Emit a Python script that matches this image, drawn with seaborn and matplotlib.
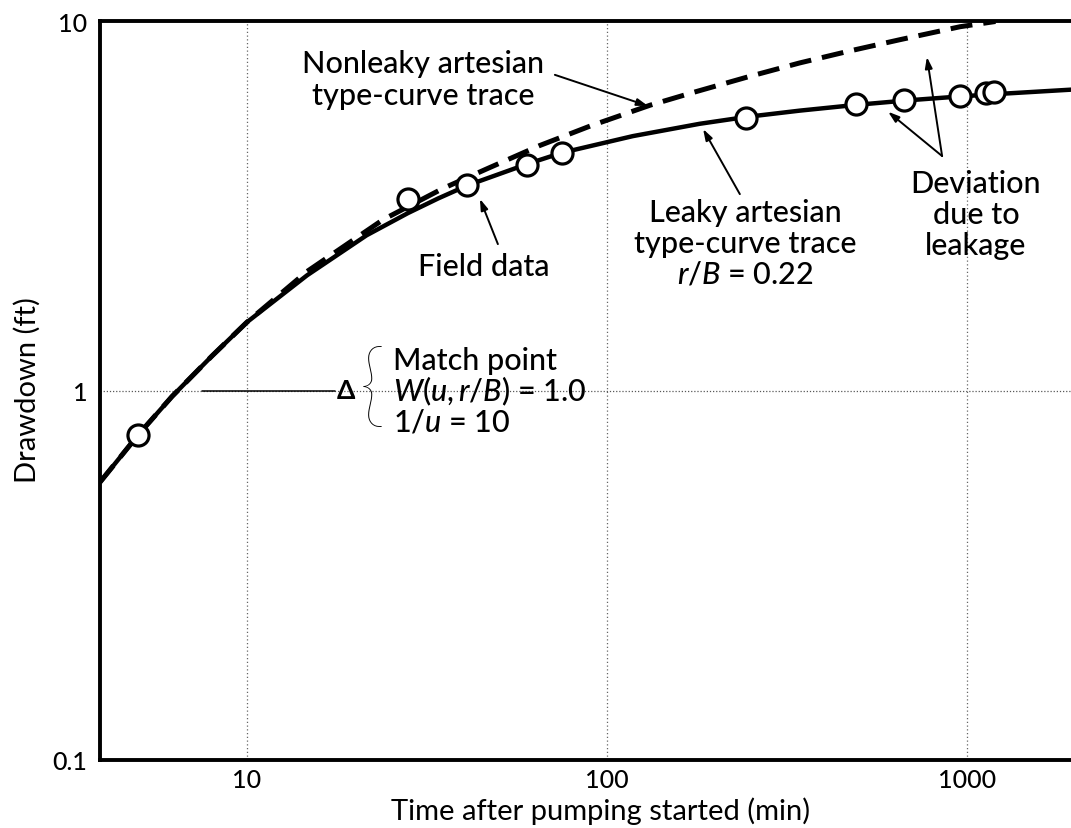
import numpy as np
import pandas as pd
import matplotlib
matplotlib.use("Agg")
import matplotlib.pyplot as plt
import seaborn as sns

# Field measurements: time since pumping began (min) and drawdown (ft)
field_time = [5, 28, 41, 60, 75, 244, 493, 669, 958, 1129, 1185]
field_drawdown = [0.76, 3.30, 3.59, 4.08, 4.39, 5.47, 5.96, 6.11, 6.27, 6.40, 6.42]

# Leaky artesian type-curve trace (r/B = 0.22)
leaky_time = [3.9, 5, 6.2, 8, 10, 14.7, 21.5, 28, 34, 41, 60, 75, 118, 181,
              244, 343, 493, 686, 958, 1200, 1950]
leaky_drawdown = [0.563, 0.76, 0.964, 1.24, 1.53, 2.05, 2.63, 3.02, 3.31, 3.59,
                  4.10, 4.40, 4.88, 5.27, 5.50, 5.72, 5.93, 6.10, 6.25, 6.34, 6.52]

# Nonleaky artesian (Theis) type-curve trace
theis_time = [3.9, 5, 6.2, 8, 10, 14.7, 23.9, 35, 46.4, 65, 90, 132, 173, 249,
              343, 473, 651, 957, 1200]
theis_drawdown = [0.563, 0.76, 0.964, 1.24, 1.53, 2.10, 2.90, 3.52, 3.98, 4.60,
                  5.20, 5.92, 6.40, 7.08, 7.70, 8.30, 8.90, 9.65, 9.97]

x_ticks = [10, 100, 1000]
x_tick_labels = ["10", "100", "1000"]
y_ticks = [0.1, 1, 10]
y_tick_labels = ["0.1", "1", "10"]

sns.set_theme(style="white")
plt.rcParams["font.family"] = ["Lato", "DejaVu Sans"]
plt.rcParams["font.weight"] = "medium"
plt.rcParams["text.color"] = "black"
plt.rcParams["axes.labelcolor"] = "black"
plt.rcParams["xtick.color"] = "black"
plt.rcParams["ytick.color"] = "black"
plt.rcParams["mathtext.fontset"] = "custom"
plt.rcParams["mathtext.it"] = "Lato:italic:medium"
plt.rcParams["mathtext.rm"] = "Lato:medium"

W, H = 1071, 829
fig = plt.figure(figsize=(W / 100, H / 100), dpi=100)
fig.patch.set_facecolor("white")
ax = fig.add_axes([100 / W, 68 / H, 971 / W, 739 / H])
ax.set_facecolor("white")
ax.set_xscale("log")
ax.set_yscale("log")
ax.set_xlim(3.91, 1945)
ax.set_ylim(0.1, 10)

# light dotted reference grid
for xv in x_ticks:
    ax.axvline(xv, color="0.4", lw=0.9, ls=(0, (1, 2)), zorder=1)
ax.axhline(1, color="0.35", lw=0.9, ls=(0, (1, 1.5)), zorder=1)

leaky = pd.DataFrame({"t": leaky_time, "s": leaky_drawdown})
theis = pd.DataFrame({"t": theis_time, "s": theis_drawdown})
field = pd.DataFrame({"t": field_time, "s": field_drawdown})

sns.lineplot(data=theis, x="t", y="s", ax=ax, color="black", lw=3.6,
             linestyle=(0, (4.4, 2.2)), estimator=None, sort=False, zorder=3)
sns.lineplot(data=leaky, x="t", y="s", ax=ax, color="black", lw=3.2,
             estimator=None, sort=False, zorder=4)
sns.scatterplot(data=field, x="t", y="s", ax=ax, s=230, marker="o",
                facecolor="white", edgecolor="black", linewidth=2.3, zorder=5)

ax.set_xticks(x_ticks)
ax.set_xticklabels(x_tick_labels)
ax.set_yticks(y_ticks)
ax.set_yticklabels(y_tick_labels)
ax.minorticks_off()
ax.tick_params(axis="both", length=0, labelsize=18, colors="black")
ax.tick_params(axis="x", pad=6)
ax.tick_params(axis="y", pad=9)

for side in ["left", "top", "bottom"]:
    ax.spines[side].set_color("black")
    ax.spines[side].set_linewidth(2.8)
ax.spines["right"].set_visible(False)

ax.set_xlabel("Time after pumping started (min)", fontsize=21, color="black")
ax.set_ylabel("Drawdown (ft)", fontsize=21, color="black")
ax.xaxis.label.set_va("center")
ax.yaxis.label.set_va("center")
ax.xaxis.set_label_coords(0.516, -0.068)
ax.yaxis.set_label_coords(-0.075, 0.502)

fs = 22
arrow = dict(arrowstyle="-|>,head_length=0.55,head_width=0.18", color="black",
             lw=1.4, shrinkA=0, shrinkB=0)

ax.text(30.8, 6.97, "Nonleaky artesian\ntype-curve trace", fontsize=fs,
        ha="center", va="center", linespacing=1.15)
ax.annotate("", xy=(130, 5.89), xytext=(71.7, 7.15), arrowprops=arrow)

ax.text(45.5, 2.17, "Field data", fontsize=fs, ha="center", va="center")
ax.annotate("", xy=(44.4, 3.30), xytext=(49.8, 2.49), arrowprops=arrow)

ax.text(243, 2.51, "Leaky artesian\ntype-curve trace\n$r/B$ = 0.22", fontsize=fs,
        ha="center", va="center", linespacing=1.12)
ax.annotate("", xy=(185, 5.10), xytext=(234, 3.40), arrowprops=arrow)

ax.text(1059, 3.00, "Deviation\ndue to\nleakage", fontsize=fs,
        ha="center", va="center", linespacing=1.12)
ax.annotate("", xy=(774, 7.99), xytext=(853, 4.31), arrowprops=arrow)
ax.annotate("", xy=(604, 5.68), xytext=(853, 4.31), arrowprops=arrow)

# match point
ax.plot([7.5, 17.6], [1, 1], color="black", lw=1.1, zorder=2)
ax.text(18.9, 1.0, "Δ", fontsize=19, ha="center", va="center",
        fontweight="bold")
ax.text(22.2, 1.0, "{", fontsize=66, ha="center", va="center",
        fontweight="light")
ax.text(25.4, 1.0, "Match point\n$W(u,r/B)$ = 1.0\n$1/u$ = 10", fontsize=fs,
        ha="left", va="center", linespacing=1.0)

fig.savefig("out.png", dpi=100, facecolor="white")
